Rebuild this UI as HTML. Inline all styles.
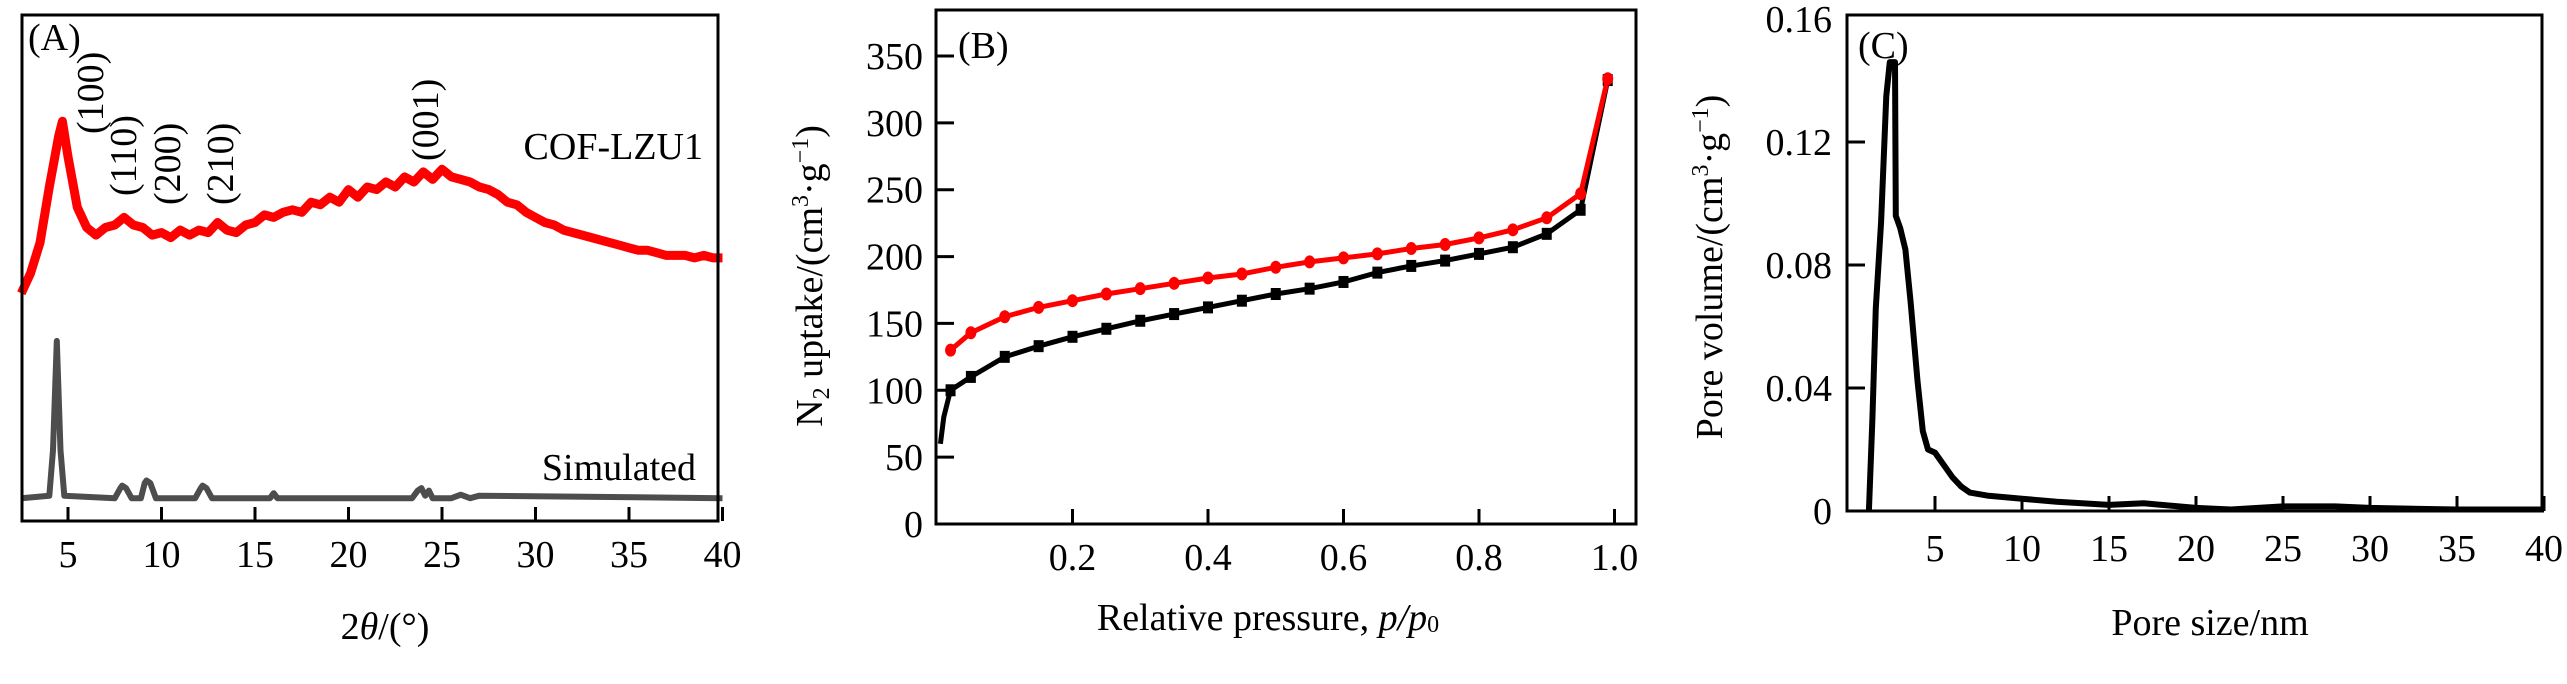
<!DOCTYPE html>
<html><head><meta charset="utf-8"><style>
html,body{margin:0;padding:0;background:#fff;}
svg, svg text{font-family:"Liberation Serif","DejaVu Serif",serif;}
svg{display:block;}
</style></head><body>
<svg id="fig" width="2567" height="684" viewBox="0 0 2567 684" xmlns="http://www.w3.org/2000/svg" font-family="Liberation Serif, serif"></svg>
<script>
// ---- Panel A data ----
const xrdX = [2.5,3,3.5,4,4.5,4.7,5,5.5,6,6.5,7,7.5,8,8.5,9,9.5,10,10.5,11,11.5,12,12.5,13,13.5,14,14.5,15,15.5,16,16.5,17,17.5,18,18.5,19,19.5,20,20.5,21,21.5,22,22.5,23,23.5,24,24.5,25,25.5,26,26.5,27,27.5,28,28.5,29,29.5,30,30.5,31,31.5,32,32.5,33,33.5,34,34.5,35,35.5,36,36.5,37,37.5,38,38.5,39,39.5,40];
const xrdRed = [45,49,55,66,76,79,72,62,58,56.5,58,58.5,60,58.5,58,56.5,57,56,57.5,56.5,57.5,57,59,57.5,57,58.5,59,60.5,60,61,61.5,61,63,62.5,64,63,65.5,64,66,65.5,67,66,68,67,69,67.5,69.5,68,67.5,67,66,65.5,64.5,63,62.5,61,60,59,58.5,57.5,57,56.5,56,55.5,55,54.5,54,53.5,53.5,53,52.5,52.5,52.5,52,52.5,52,52];
const simX = [2.5,4.0,4.2,4.4,4.6,4.8,7.5,7.8,7.9,8.1,8.4,8.9,9.1,9.2,9.4,9.7,11.8,12.1,12.2,12.4,12.7,15.8,16.0,16.2,23.4,23.7,23.9,24.1,24.3,24.5,25.5,26.0,26.5,27.0,40];
const simY = [4.5,5,14,35.6,14,5,4.5,6.5,7,6.5,4.5,4.5,7.5,8,7.5,4.5,4.5,6.5,7,6.5,4.5,4.5,5.5,4.5,4.5,6,6.5,5,6,4.5,4.5,5.2,4.5,5,4.5];
const aTicks = [5,10,15,20,25,30,35,40];
const aPeaks = ["(100)","(110)","(200)","(210)","(001)"];
// ---- Panel B data ----
const bX = [0.005,0.01,0.02,0.05,0.1,0.15,0.2,0.25,0.3,0.35,0.4,0.45,0.5,0.55,0.6,0.65,0.7,0.75,0.8,0.85,0.9,0.95,0.99];
const bAds = [60,80,100,110,125,133,140,146,152,157,162,167,172,176,181,188,193,197,202,207,217,235,332];
const bRedX = [0.02,0.05,0.1,0.15,0.2,0.25,0.3,0.35,0.4,0.45,0.5,0.55,0.6,0.65,0.7,0.75,0.8,0.85,0.9,0.95,0.99];
const bDes = [130,143,155,162,167,172,176,180,184,187,192,196,199,202,206,209,214,220,229,247,333];
const bYTicks = [0,50,100,150,200,250,300,350];
const bXTicks = [0.2,0.4,0.6,0.8,1.0];
// ---- Panel C data ----
const cX = [1.2,1.4,1.6,1.9,2.2,2.4,2.7,2.75,3.0,3.3,3.6,4.0,4.3,4.6,5.0,5.5,6,6.5,7,8,10,12,15,17,20,22,25,28,30,35,40];
const cY = [0,0.03,0.066,0.094,0.135,0.146,0.146,0.096,0.092,0.085,0.068,0.042,0.026,0.02,0.019,0.015,0.011,0.008,0.006,0.005,0.004,0.003,0.002,0.0025,0.001,0.0005,0.0015,0.0015,0.001,0.0005,0.0005];
const cYTicks = [0,0.04,0.08,0.12,0.16];
const cYLabels = ["0","0.04","0.08","0.12","0.16"];
const cXTicks = [5,10,15,20,25,30,35,40];

const NS="http://www.w3.org/2000/svg";
const svg=document.getElementById('fig');
function el(tag,attrs,parent,text){const e=document.createElementNS(NS,tag);for(const k in attrs)e.setAttribute(k,attrs[k]);if(text!==undefined)e.textContent=text;(parent||svg).appendChild(e);return e;}
function lin(d0,d1,r0,r1){return v=>r0+(v-d0)*(r1-r0)/(d1-d0);}
function pathD(xs,ys,sx,sy){return xs.map((x,i)=>(i?'L':'M')+sx(x).toFixed(1)+' '+sy(ys[i]).toFixed(1)).join(' ');}
const FS=38, SUB=24;

// ===== Panel A =====
{
const g=el('g',{});


const L=22,R=718,T=15,B=521;
const sx=lin(5,25,68,442), sy=lin(0,100,B,T);
const red=el('path',{d:pathD(xrdX,xrdRed,sx,sy),fill:'none',stroke:'#ff0000','stroke-width':9,'stroke-linejoin':'round'},g);


const sim=el('path',{d:pathD(simX,simY,sx,sy),fill:'none',stroke:'#4d4d4d','stroke-width':6,'stroke-linejoin':'round'},g);


aTicks.forEach(t=>{
 const tk=el('line',{x1:sx(t),x2:sx(t),y1:B,y2:B-14,stroke:'#000','stroke-width':3},g);
 
 
 const lb=el('text',{x:sx(t),y:567,'font-size':FS,'text-anchor':'middle'},g,String(t));
 
 
});
const fr=el('rect',{x:L,y:T,width:R-L,height:B-T,fill:'none',stroke:'#000','stroke-width':3},g);


const pkX=[103,136,180,233,438], pkY=[134,196,205,205,161];
aPeaks.forEach((p,i)=>{
 const t=el('text',{x:0,y:0,'font-size':FS,'text-anchor':'start',transform:`translate(${pkX[i]},${pkY[i]}) rotate(-90)`},g,p);
 
 
});
const pa=el('text',{x:28,y:50,'font-size':FS},g,'(A)');


const c1=el('text',{x:703,y:159,'font-size':FS,'text-anchor':'end'},g,'COF-LZU1');


const c2=el('text',{x:696,y:480,'font-size':FS,'text-anchor':'end'},g,'Simulated');


const xt=el('text',{x:385,y:639,'font-size':FS,'text-anchor':'middle'},g);


el('tspan',{},xt,'2');el('tspan',{'font-style':'italic'},xt,'θ');el('tspan',{},xt,'/(°)');
}

// ===== Panel B =====
{
const g=el('g',{});


const L=936,R=1636,T=10,B=524;
const sx=lin(0.4,0.8,1208,1479), sy=lin(0,350,B,56);
const blk=el('path',{d:pathD(bX,bAds,sx,sy),fill:'none',stroke:'#000','stroke-width':5},g);


bX.forEach((x,i)=>{if(i<2)return;
 const m=el('rect',{x:sx(x)-5,y:sy(bAds[i])-6,width:10,height:12,fill:'#000'},g);
 
 
});
const rd=el('path',{d:pathD(bRedX,bDes,sx,sy),fill:'none',stroke:'#ff0000','stroke-width':5},g);


bRedX.forEach((x,i)=>{
 const m=el('ellipse',{cx:sx(x),cy:sy(bDes[i]),rx:5.5,ry:6.5,fill:'#ff0000'},g);
 
 
});
bYTicks.forEach(t=>{
 if(t>0){const tk=el('line',{x1:L,x2:L+18,y1:sy(t),y2:sy(t),stroke:'#000','stroke-width':3},g);
 
 }
 const lb=el('text',{x:923,y:sy(t)+13,'font-size':FS,'text-anchor':'end'},g,String(t));
 
 
});
bXTicks.forEach(t=>{
 const tk=el('line',{x1:sx(t),x2:sx(t),y1:B,y2:B-15,stroke:'#000','stroke-width':3},g);
 
 
 const lb=el('text',{x:sx(t),y:570,'font-size':FS,'text-anchor':'middle'},g,t.toFixed(1));
 
 
});
const fr=el('rect',{x:L,y:T,width:R-L,height:B-T,fill:'none',stroke:'#000','stroke-width':3},g);


const pb=el('text',{x:958,y:58,'font-size':FS},g,'(B)');


const yt=el('text',{x:0,y:0,'font-size':FS,'text-anchor':'middle',transform:'translate(822,276) rotate(-90)'},g);


el('tspan',{},yt,'N');el('tspan',{'font-size':SUB,dy:7},yt,'2');el('tspan',{dy:-7},yt,' uptake/(cm');el('tspan',{'font-size':SUB,dy:-14},yt,'3');el('tspan',{dy:14},yt,'·g');el('tspan',{'font-size':SUB,dy:-14},yt,'−1');el('tspan',{dy:14},yt,')');
const xt=el('text',{x:1268,y:630,'font-size':FS,'text-anchor':'middle'},g);


el('tspan',{},xt,'Relative pressure, ');el('tspan',{'font-style':'italic'},xt,'p/p');el('tspan',{'font-size':SUB,dy:2},xt,'0');
}

// ===== Panel C =====
{
const g=el('g',{});


const L=1847,R=2542,T=15,B=511;
const sx=lin(5,35,1935,2457), sy=lin(0,0.12,B,142);
const ln=el('path',{d:pathD(cX,cY,sx,sy),fill:'none',stroke:'#000','stroke-width':6,'stroke-linejoin':'round'},g);


cYTicks.forEach((t,i)=>{
 if(t>0&&t<0.16){const tk=el('line',{x1:L,x2:L+18,y1:sy(t),y2:sy(t),stroke:'#000','stroke-width':3},g);
 
 }
 const lb=el('text',{x:1832,y:sy(t)+13,'font-size':FS,'text-anchor':'end'},g,cYLabels[i]);
 
 
});
cXTicks.forEach(t=>{
 const tk=el('line',{x1:sx(t),x2:sx(t),y1:B,y2:B-15,stroke:'#000','stroke-width':3},g);
 
 
 const lb=el('text',{x:sx(t),y:561,'font-size':FS,'text-anchor':'middle'},g,String(t));
 
 
});
const fr=el('rect',{x:L,y:T,width:R-L,height:B-T,fill:'none',stroke:'#000','stroke-width':3},g);


const pc=el('text',{x:1858,y:58,'font-size':FS},g,'(C)');


const yt=el('text',{x:0,y:0,'font-size':FS,'text-anchor':'middle',transform:'translate(1722,267) rotate(-90)'},g);


el('tspan',{},yt,'Pore volume/(cm');el('tspan',{'font-size':SUB,dy:-14},yt,'3');el('tspan',{dy:14},yt,'·g');el('tspan',{'font-size':SUB,dy:-14},yt,'−1');el('tspan',{dy:14},yt,')');
const xt=el('text',{x:2210,y:635,'font-size':FS,'text-anchor':'middle'},g,'Pore size/nm');


}
</script>
</body></html>
